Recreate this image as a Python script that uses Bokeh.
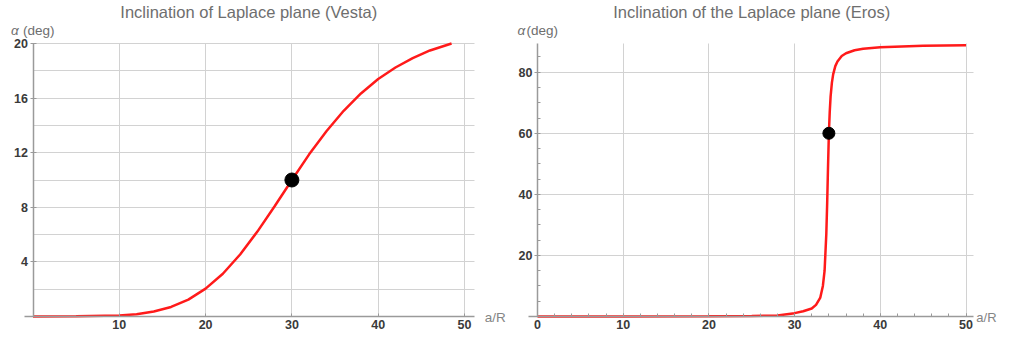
from bokeh.plotting import figure
from bokeh.layouts import row
from bokeh.models import FixedTicker, Label, Range1d, LinearAxis, Grid
from bokeh.embed import file_html
from bokeh.resources import INLINE

# ---------------- data ----------------
vesta_title = "Inclination of Laplace plane (Vesta)"
eros_title = "Inclination of the Laplace plane (Eros)"
x_label = "a/R"
y_symbol = "α"
vesta_unit = "(deg)"
eros_unit = "(deg)"

vesta_x = [0, 5, 10, 12, 14, 16, 18, 20, 22, 24, 26, 28, 30, 32, 34, 36, 38, 40, 42, 44, 46, 48.5]
vesta_y = [0, 0.01, 0.07, 0.17, 0.37, 0.7, 1.24, 2.04, 3.13, 4.54, 6.22, 8.08, 10.0, 11.88, 13.57,
           15.07, 16.34, 17.4, 18.24, 18.93, 19.49, 20.0]
vesta_point_x = [30]
vesta_point_y = [10]

eros_x = [0, 10, 20, 25, 28, 30, 31, 32, 32.5, 33, 33.3, 33.5, 33.7, 33.8, 33.9, 34, 34.1, 34.2,
          34.35, 34.5, 34.75, 35, 35.5, 36, 37, 38, 40, 45, 50]
eros_y = [0, 0.02, 0.07, 0.18, 0.3, 1.1, 1.7, 2.6, 3.8, 6.2, 10, 15, 27, 37, 49, 60, 67, 72,
          76.5, 79.3, 82, 83.5, 85.3, 86.2, 87.2, 87.7, 88.2, 88.7, 88.8]
eros_point_x = [34]
eros_point_y = [60]

vesta_xticks = [10, 20, 30, 40, 50]
vesta_yticks = [4, 8, 12, 16, 20]
vesta_ygrid = [2, 4, 6, 8, 10, 12, 14, 16, 18, 20]
vesta_xgrid = [10, 20, 30, 40, 50]

eros_xticks = [0, 10, 20, 30, 40, 50]
eros_xminor = list(range(2, 51, 2))
eros_yticks = [20, 40, 60, 80]
eros_yminor = [5, 10, 15, 25, 30, 35, 45, 50, 55, 65, 70, 75, 85]
eros_xgrid = [10, 20, 30, 40, 50]
eros_ygrid = [20, 40, 60, 80]

FONT = "Liberation Sans"
GRID = "#d2d2d2"
AXIS = "#9a9a9a"
TICKTXT = "#3a3a3a"
SOFT = "#6e6e6e"
ARTXT = "#858585"
CURVE = "#ff1a1a"
H = 336
Y0PX = 316   # canvas row of data y = 0
YTOP = 43    # canvas row of the top of the y axis


def panel(width, x0px, xscale, y_axis_end, x_axis_end, xticks, xminor,
          yticks, yminor, xgrid, ygrid):
    # the frame fills the whole canvas; axes are placed at data zero with fixed_location
    yscale = (Y0PX - YTOP) / y_axis_end
    xr = Range1d(-x0px / xscale, (width - x0px) / xscale)
    yr = Range1d(-(H - Y0PX) / yscale, Y0PX / yscale)
    p = figure(width=width, height=H, x_range=xr, y_range=yr, output_backend="svg",
               toolbar_location=None, x_axis_type=None, y_axis_type=None,
               min_border=0)
    p.outline_line_color = None
    xa = LinearAxis(fixed_location=0, bounds=(-1.0, x_axis_end),
                    ticker=FixedTicker(ticks=xticks, minor_ticks=xminor))
    ya = LinearAxis(fixed_location=0, bounds=(0, y_axis_end),
                    ticker=FixedTicker(ticks=yticks, minor_ticks=yminor))
    for ax in (xa, ya):
        ax.axis_line_color = AXIS
        ax.axis_line_width = 1.5
        ax.major_tick_line_color = AXIS
        ax.minor_tick_line_color = AXIS
        ax.major_tick_in = 3
        ax.major_tick_out = 3
        ax.minor_tick_in = 3
        ax.minor_tick_out = 0
        ax.major_label_text_font = FONT
        ax.major_label_text_font_size = "12.5px"
        ax.major_label_text_font_style = "bold"
        ax.major_label_text_color = TICKTXT
        ax.major_label_standoff = 2
    xa.major_tick_out = 0
    xa.major_label_standoff = 3
    p.add_layout(xa, "below")
    p.add_layout(ya, "left")
    gx = Grid(dimension=0, ticker=FixedTicker(ticks=xgrid), cross_bounds=(0, y_axis_end),
              grid_line_color=GRID, grid_line_width=1)
    gy = Grid(dimension=1, ticker=FixedTicker(ticks=ygrid), cross_bounds=(0, x_axis_end),
              grid_line_color=GRID, grid_line_width=1)
    p.add_layout(gx)
    p.add_layout(gy)
    return p


def add_texts(p, title, unit, x_end, y_top, alpha_dx, unit_dx, ar_dx, ar_size):
    # texts anchored to the top of the canvas (y_top) and to the axis ends
    p.add_layout(Label(x=25, y=y_top, y_offset=-11, text=title, text_align="center",
                       text_baseline="middle", text_font=FONT, text_font_size="16.5px",
                       text_color=SOFT))
    p.add_layout(Label(x=0, y=y_top, x_offset=alpha_dx, y_offset=-30, text=y_symbol,
                       text_align="left", text_baseline="middle", text_font=FONT,
                       text_font_size="13.5px", text_font_style="italic", text_color=SOFT))
    p.add_layout(Label(x=0, y=y_top, x_offset=unit_dx, y_offset=-30, text=unit,
                       text_align="left", text_baseline="middle", text_font=FONT,
                       text_font_size="13.5px", text_color=SOFT))
    p.add_layout(Label(x=x_end, y=0, x_offset=ar_dx, y_offset=-1, text=x_label,
                       text_align="left", text_baseline="middle", text_font=FONT,
                       text_font_size=ar_size, text_color=ARTXT))


# ---------------- left panel (Vesta) ----------------
vx_end, vy_end = 51.2, 20
p1 = panel(513, 32.5, 8.63, vy_end, vx_end, vesta_xticks, [],
           vesta_yticks, [], vesta_xgrid, vesta_ygrid)
p1.line(vesta_x, vesta_y, line_color=CURVE, line_width=2.5)
p1.scatter(vesta_point_x, vesta_point_y, size=14, color="black")
add_texts(p1, vesta_title, vesta_unit, vx_end, p1.y_range.end, -22, -10, 10, "13.5px")

# ---------------- right panel (Eros) ----------------
ex_end, ey_end = 50.85, 89.4
p2 = panel(486, 24, 8.57, ey_end, ex_end, eros_xticks, eros_xminor,
           eros_yticks, eros_yminor, eros_xgrid, eros_ygrid)
p2.line(eros_x, eros_y, line_color=CURVE, line_width=2.5)
p2.scatter(eros_point_x, eros_point_y, size=12, color="black")
add_texts(p2, eros_title, eros_unit, ex_end, p2.y_range.end, -20, -11, 3, "13px")

layout = row(p1, p2)
open("out.html", "w").write(file_html(layout, INLINE))
